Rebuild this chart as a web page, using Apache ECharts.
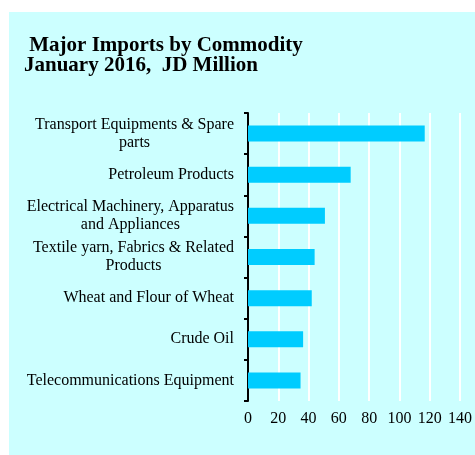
<!DOCTYPE html>
<html>
<head>
<meta charset="utf-8">
<script src="https://cdn.jsdelivr.net/npm/echarts@6/dist/echarts.min.js"></script>
<style>
  html, body { margin: 0; padding: 0; background: #ffffff; }
  #chart { width: 475px; height: 455px; }
</style>
</head>
<body>
<div id="chart"></div>
<script>
// Major imports by commodity, January 2016 (JD million)
const categories = [
  'Transport Equipments & Spare parts',
  'Petroleum Products',
  'Electrical Machinery, Apparatus and Appliances',
  'Textile yarn, Fabrics & Related Products',
  'Wheat and Flour of Wheat',
  'Crude Oil',
  'Telecommunications Equipment'
];
const importValues = [116.7, 67.8, 50.8, 44.0, 42.1, 36.4, 34.7];
const valueTicks = { min: 0, max: 140, interval: 20 };
const titleLines = [' Major Imports by Commodity', 'January 2016,  JD Million'];

const SERIF = '"Liberation Serif", "Times New Roman", serif';
const LABEL_FONT_SIZE = 16;
const LABEL_MAX_WIDTH = 214;

// Word-wrap a category name into lines no wider than maxWidth
const measureCtx = document.createElement('canvas').getContext('2d');
measureCtx.font = LABEL_FONT_SIZE + 'px ' + SERIF;
function wrapLabel(text, maxWidth) {
  const words = text.split(' ');
  const lines = [];
  let current = '';
  words.forEach(function (w) {
    const trial = current ? current + ' ' + w : w;
    if (current && measureCtx.measureText(trial).width > maxWidth) {
      lines.push(current);
      current = w;
    } else {
      current = trial;
    }
  });
  if (current) lines.push(current);
  return lines;
}

const chart = echarts.init(document.getElementById('chart'), null, { renderer: 'canvas' });

chart.setOption({
  animation: false,
  backgroundColor: '#ffffff',
  graphic: [{
    type: 'rect',
    silent: true,
    z: -100,
    shape: { x: 9, y: 12, width: 466, height: 443 },
    style: { fill: '#ccffff' }
  }],
  title: {
    text: titleLines.join('\n'),
    left: 24,
    top: 36,
    padding: 0,
    textStyle: {
      fontFamily: SERIF,
      fontWeight: 'bold',
      fontSize: 21,
      lineHeight: 20,
      color: '#000000'
    }
  },
  grid: {
    left: 248,
    right: 13,
    top: 113,
    bottom: 54,
    containLabel: false
  },
  xAxis: {
    type: 'value',
    min: valueTicks.min,
    max: valueTicks.max,
    interval: valueTicks.interval,
    axisLine: { show: false },
    axisTick: { show: false },
    splitLine: { show: true, lineStyle: { color: '#ffffff', width: 2 } },
    axisLabel: {
      margin: 10,
      fontFamily: SERIF,
      fontSize: 16,
      color: '#000000'
    }
  },
  yAxis: {
    type: 'category',
    inverse: true,
    data: categories,
    axisLine: { show: true, lineStyle: { color: '#000000', width: 2 } },
    axisTick: { show: true, inside: false, length: 4, lineStyle: { color: '#000000', width: 2 } },
    splitLine: { show: false },
    axisLabel: {
      interval: 0,
      margin: 14,
      align: 'right',
      formatter: function (value) {
        return wrapLabel(value, LABEL_MAX_WIDTH).map(function (l) {
          return '{c|' + l + '}';
        }).join('\n');
      },
      rich: {
        c: {
          align: 'center',
          fontFamily: SERIF,
          fontSize: LABEL_FONT_SIZE,
          lineHeight: 18,
          color: '#000000'
        }
      }
    }
  },
  series: [{
    type: 'bar',
    data: importValues,
    barWidth: 16,
    itemStyle: { color: '#00ccff' }
  }]
});
</script>
</body>
</html>
